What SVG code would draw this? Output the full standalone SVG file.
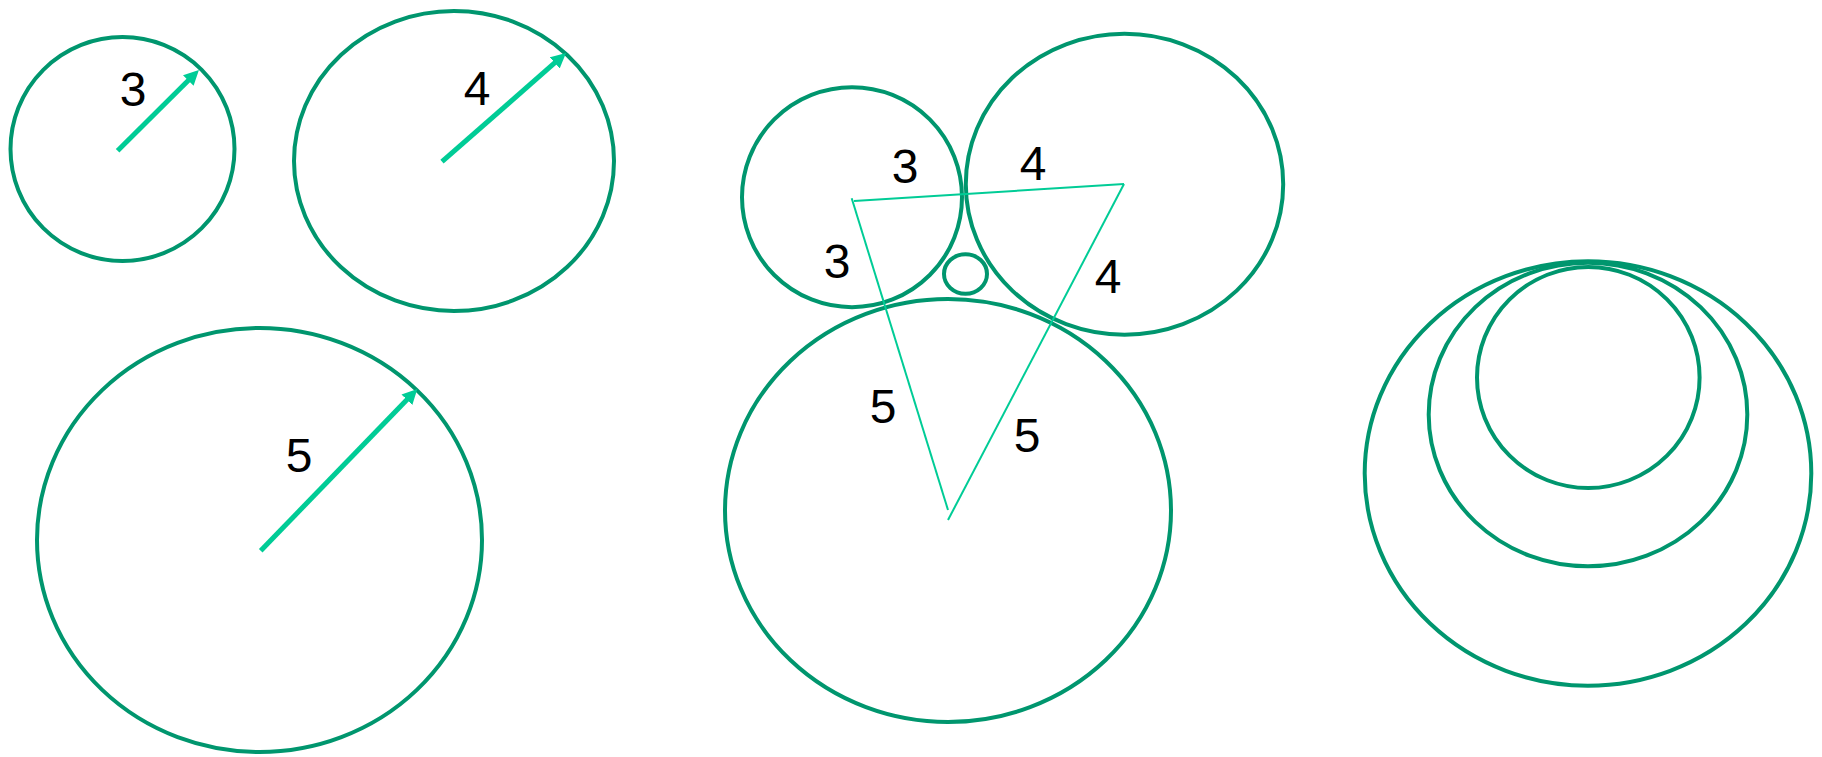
<svg xmlns="http://www.w3.org/2000/svg" width="1822" height="757" viewBox="0 0 1822 757">
<style>
.c{fill:none;stroke:#00966E;stroke-width:4}
.a{stroke:#00CC96;stroke-width:5;fill:none}
.l{stroke:#00CC96;stroke-width:2;fill:none}
.t{font-family:"Liberation Sans",Arial,sans-serif;font-size:48px;fill:#000;text-anchor:middle}
</style>
<defs>
<marker id="ah" markerUnits="userSpaceOnUse" markerWidth="16" markerHeight="16" viewBox="0 -8 16 16" refX="1" refY="0" orient="auto">
<path d="M0,-7.5 L15,0 L0,7.5 z" fill="#00CC96"/>
</marker>
</defs>
<rect width="1822" height="757" fill="#fff"/>
<g id="circle-3">
<ellipse class="c" cx="122.5" cy="149" rx="112" ry="112"/>
<text class="t" x="133" y="106">3</text>
</g>
<g id="circle-4">
<ellipse class="c" cx="454" cy="161" rx="160" ry="150"/>
<text class="t" x="477" y="105">4</text>
</g>
<g id="circle-5">
<ellipse class="c" cx="259.5" cy="540" rx="222.5" ry="212"/>
<text class="t" x="299" y="472">5</text>
</g>
<g id="tangent-3">
<ellipse class="c" cx="852" cy="197.2" rx="110" ry="110"/>
<text class="t" x="905" y="183">3</text>
<text class="t" x="837" y="278">3</text>
</g>
<g id="tangent-4">
<ellipse class="c" cx="1124.5" cy="184.2" rx="158.7" ry="150.5"/>
<text class="t" x="1033" y="180">4</text>
<text class="t" x="1108" y="293">4</text>
</g>
<g id="tangent-5">
<ellipse class="c" cx="948" cy="510.5" rx="223" ry="211.5"/>
<text class="t" x="883" y="423">5</text>
<text class="t" x="1027" y="452">5</text>
</g>
<g id="tangent-small">
<ellipse class="c" cx="965.5" cy="274" rx="21.5" ry="19.7"/>
</g>
<g id="nested">
<ellipse class="c" cx="1588" cy="473.5" rx="223.3" ry="212.2"/>
<ellipse class="c" cx="1588" cy="414.5" rx="159.3" ry="151.8"/>
<ellipse class="c" cx="1588.3" cy="377.5" rx="111.3" ry="110.5"/>
</g>
<g id="connectors">
<line class="a" x1="117.6" y1="150.7" x2="189" y2="79.8" marker-end="url(#ah)"/>
<line class="a" x1="442" y1="161.7" x2="555.5" y2="62.2" marker-end="url(#ah)"/>
<line class="a" x1="260.7" y1="550.7" x2="407.6" y2="399.1" marker-end="url(#ah)"/>
<line class="l" x1="854" y1="201" x2="1124" y2="184"/>
<line class="l" x1="851.7" y1="198.3" x2="948" y2="510"/>
<line class="l" x1="1124" y1="184" x2="948" y2="520"/>
</g>
</svg>
